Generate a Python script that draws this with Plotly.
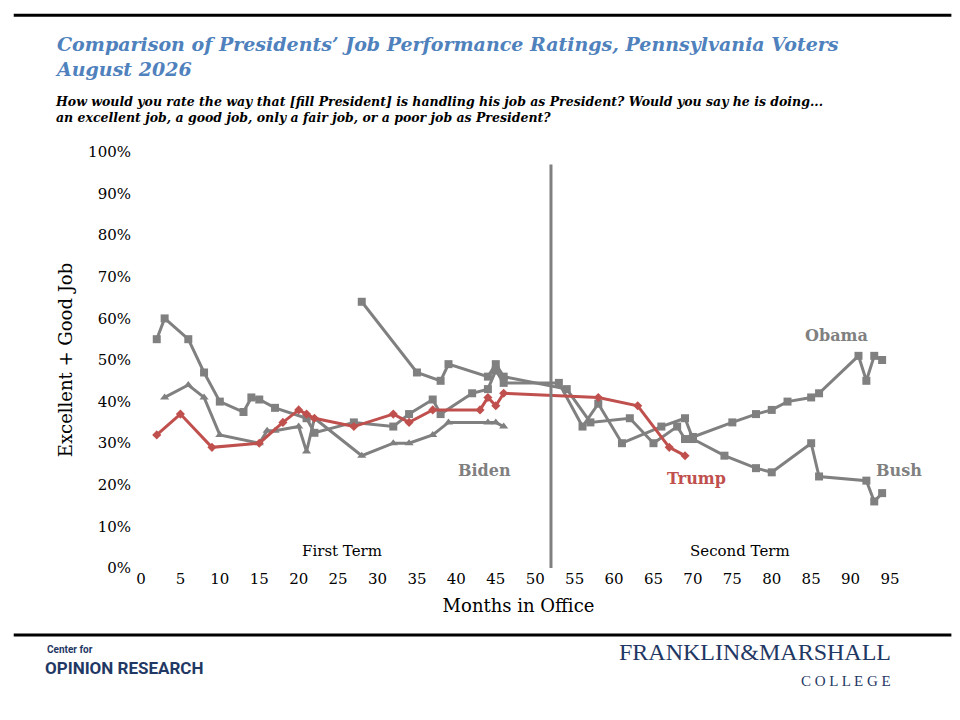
import plotly.graph_objects as go

# Bush
bush_x = [2, 3, 6, 8, 10, 13, 14, 15, 17, 21, 22, 27, 32, 34, 37, 38, 42, 44, 45, 46,
          53, 56, 58, 61, 66, 69, 70, 74, 78, 80, 85, 86, 92, 93, 94]
bush_y = [55, 60, 55, 47, 40, 37.5, 41, 40.5, 38.5, 36, 32.5, 35, 34, 37, 40.5, 37, 42, 43, 47.5, 44.5,
          44.5, 34, 39.5, 30, 34, 36, 31, 27, 24, 23, 30, 22, 21, 16, 18]
# Obama
obama_x = [28, 35, 38, 39, 44, 45, 46, 54, 57, 62, 65, 68, 69, 70, 75, 78, 80, 82, 85, 86, 91, 92, 93, 94]
obama_y = [64, 47, 45, 49, 46, 49, 46, 43, 35, 36, 30, 34, 31, 31.5, 35, 37, 38, 40, 41, 42, 51, 45, 51, 50]
# Biden
biden_x = [3, 6, 8, 10, 15, 16, 17, 20, 21, 22, 28, 32, 34, 37, 39, 44, 45, 46]
biden_y = [41, 44, 41, 32, 30, 33, 33, 34, 28, 36, 27, 30, 30, 32, 35, 35, 35, 34]
# Trump
trump_x = [2, 5, 9, 15, 18, 20, 21, 22, 27, 32, 34, 37, 43, 44, 45, 46, 58, 63, 67, 69]
trump_y = [32, 37, 29, 30, 35, 38, 37, 36, 34, 37, 35, 38, 38, 41, 39, 42, 41, 39, 29, 27]

x_ticks = list(range(0, 100, 5))
y_ticks = list(range(0, 101, 10))
y_labels = [str(v) + "%" for v in y_ticks]

gray = "#808080"
red = "#C0504D"
serif = "'DejaVu Serif', Georgia, serif"
serif2 = "'Liberation Serif', serif"

fig = go.Figure()
fig.add_trace(go.Scatter(x=bush_x, y=bush_y, mode="lines+markers", name="Bush",
                         line=dict(color=gray, width=3), marker=dict(symbol="square", size=8)))
fig.add_trace(go.Scatter(x=obama_x, y=obama_y, mode="lines+markers", name="Obama",
                         line=dict(color=gray, width=3), marker=dict(symbol="square", size=8)))
fig.add_trace(go.Scatter(x=biden_x, y=biden_y, mode="lines+markers", name="Biden",
                         line=dict(color=gray, width=3), marker=dict(symbol="triangle-up", size=8)))
fig.add_trace(go.Scatter(x=trump_x, y=trump_y, mode="lines+markers", name="Trump",
                         line=dict(color=red, width=3), marker=dict(symbol="diamond", size=7)))

fig.add_shape(type="line", x0=52, x1=52, y0=0, y1=97, line=dict(color=gray, width=3))

labels = [(40, 23.5, "Biden", gray), (66.5, 21.5, "Trump", red), (84, 56, "Obama", gray), (93, 23.5, "Bush", gray)]
for lx, ly, txt, col in labels:
    fig.add_annotation(x=lx, y=ly, text="<b>" + txt + "</b>", showarrow=False, xanchor="left",
                       font=dict(family=serif, size=16, color=col))
fig.add_annotation(x=25.5, y=4, text="First Term", showarrow=False, font=dict(family=serif, size=15, color="black"))
fig.add_annotation(x=76, y=4, text="Second Term", showarrow=False, font=dict(family=serif, size=15, color="black"))

fig.add_annotation(xref="paper", yref="paper", x=-0.102, y=1.29, xanchor="left", yanchor="top", align="left",
                   showarrow=False, font=dict(family=serif, size=19, color="#4F81BD"),
                   text="<b><i>Comparison of Presidents’ Job Performance Ratings, Pennsylvania Voters<br>August 2026</i></b>")
fig.add_annotation(xref="paper", yref="paper", x=-0.102, y=1.145, xanchor="left", yanchor="top", align="left",
                   showarrow=False, font=dict(family=serif, size=12.5, color="black"),
                   text="<b><i>How would you rate the way that [fill President] is handling his job as President? Would you say he is doing...<br>an excellent job, a good job, only a fair job, or a poor job as President?</i></b>")

fig.add_annotation(xref="paper", yref="paper", x=-0.113, y=-0.215, xanchor="left", showarrow=False, align="left",
                   font=dict(family="Roboto, Arial", size=10, color="#1F3864"), text="<b>Center for</b>")
fig.add_annotation(xref="paper", yref="paper", x=-0.115, y=-0.27, xanchor="left", showarrow=False,
                   font=dict(family="Roboto, Arial", size=17, color="#1F3864"), text="<b>OPINION RESEARCH</b>")
fig.add_annotation(xref="paper", yref="paper", x=0.985, y=-0.238, xanchor="right", showarrow=False,
                   font=dict(family=serif2, size=24, color="#1F3864"), text="FRANKLIN&amp;MARSHALL")
fig.add_annotation(xref="paper", yref="paper", x=0.985, y=-0.295, xanchor="right", showarrow=False,
                   font=dict(family=serif2, size=15, color="#1F3864"), text="C O L L E G E")

fig.add_shape(type="line", xref="paper", yref="paper", x0=-0.153, x1=1.06, y0=1.329, y1=1.329,
              line=dict(color="black", width=3))
fig.add_shape(type="line", xref="paper", yref="paper", x0=-0.153, x1=1.06, y0=-0.161, y1=-0.161,
              line=dict(color="black", width=3))

fig.update_layout(
    width=960, height=720, showlegend=False,
    plot_bgcolor="white", paper_bgcolor="white",
    margin=dict(l=124, r=63, t=144, b=160),
    font=dict(family=serif, size=15, color="black"),
    xaxis=dict(range=[-1.14, 96.9], tickvals=x_ticks, showgrid=False, zeroline=False,
               showline=False, ticks="", title=dict(text="Months in Office", standoff=12)),
    yaxis=dict(range=[0, 100], tickvals=y_ticks, ticktext=y_labels, showgrid=False, zeroline=False,
               showline=False, ticks="", title=dict(text="Excellent + Good Job", standoff=10)),
)

fig.write_html("out.html")
